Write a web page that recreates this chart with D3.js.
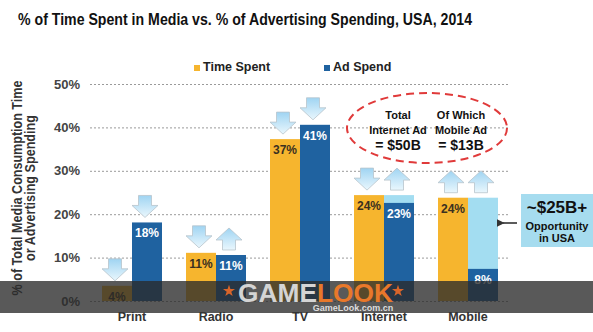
<!DOCTYPE html>
<html><head><meta charset="utf-8">
<script src="https://cdn.jsdelivr.net/npm/d3@7"></script>
<style>
body{margin:0;background:#fff}
text{font-family:"Liberation Sans",Arial,Helvetica,sans-serif;font-weight:bold}
</style>
</head><body><svg id="c" width="593" height="332"></svg>
<script>
const categories = ["Print","Radio","TV","Internet","Mobile"];
const seriesNames = ["Time Spent","Ad Spend"];
const timeSpent = [3.5, 11.1, 37.3, 24.4, 23.8];
const adSpend = [18.1, 10.6, 40.6, 22.6, 7.4];
const opportunityTop = [null, null, null, 24.4, 23.8];
const timeLabels = ["4%","11%","37%","24%","24%"];
const adLabels = ["18%","11%","41%","23%","8%"];
const timeArrows = ["down","down","down","down","up"];
const adArrows = ["down","up","down","up","up"];
const yTicks = [0,10,20,30,40,50];

const COL_TIME = "#f6b52e", COL_AD = "#1f62a0", COL_GAP = "#a3ddf1";
const svg = d3.select("#c");

const defs = svg.append("defs");
const g1 = defs.append("linearGradient").attr("id","arrGrad").attr("x1",0).attr("y1",0).attr("x2",0).attr("y2",1);
g1.append("stop").attr("offset","0%").attr("stop-color","#9fd4f2");
g1.append("stop").attr("offset","100%").attr("stop-color","#eaf7fd");
defs.append("marker").attr("id","ah").attr("viewBox","0 0 10 10").attr("refX",2).attr("refY",5)
  .attr("markerWidth",5).attr("markerHeight",5).attr("orient","auto")
  .append("path").attr("d","M10,0 L0,5 L10,10 z").attr("fill","#333");

// Title
svg.append("text").attr("x",18).attr("y",25).attr("font-size",17)
  .attr("textLength",454).attr("lengthAdjust","spacingAndGlyphs").attr("fill","#111")
  .text("% of Time Spent in Media vs. % of Advertising Spending, USA, 2014");

const y = d3.scaleLinear().domain([0,50]).range([301,84]);
const x = d3.scaleBand().domain(categories).range([90,510]).paddingInner(24/84).paddingOuter(12/84);
const x1 = d3.scaleBand().domain(seriesNames).range([0,x.bandwidth()]);

// Grid / y axis
const yAxis = svg.append("g").attr("transform","translate(90,0)")
  .call(d3.axisLeft(y).tickValues(yTicks).tickFormat(d=>d+"%").tickSize(-418).tickPadding(10));
yAxis.select(".domain").remove();
yAxis.selectAll(".tick line").attr("stroke","#9a9a9a").attr("stroke-dasharray","2,2");
yAxis.selectAll(".tick text").attr("font-size",13).attr("fill","#444")
  .style("font-family","'Liberation Sans',Arial,sans-serif").style("font-weight","bold");

// Legend
const leg = svg.append("g");
[[194,"Time Spent",COL_TIME],[324,"Ad Spend",COL_AD]].forEach(([lx,t,c])=>{
  leg.append("rect").attr("x",lx).attr("y",65).attr("width",6).attr("height",6).attr("fill",c);
  leg.append("text").attr("x",lx+9).attr("y",71).attr("font-size",12.5).attr("fill","#222").text(t);
});

// Bars
const groups = svg.append("g").selectAll("g").data(categories).join("g")
  .attr("transform",d=>`translate(${x(d)},0)`);
groups.append("rect").attr("x",x1("Time Spent")).attr("width",x1.bandwidth())
  .attr("y",(d,i)=>y(timeSpent[i])).attr("height",(d,i)=>y(0)-y(timeSpent[i])).attr("fill",COL_TIME);
groups.filter((d,i)=>opportunityTop[i]!=null).append("rect").attr("x",x1("Ad Spend")).attr("width",x1.bandwidth())
  .attr("y",d=>y(opportunityTop[categories.indexOf(d)])).attr("height",d=>y(0)-y(opportunityTop[categories.indexOf(d)]))
  .attr("fill",COL_GAP);
groups.append("rect").attr("x",x1("Ad Spend")).attr("width",x1.bandwidth())
  .attr("y",(d,i)=>y(adSpend[i])).attr("height",(d,i)=>y(0)-y(adSpend[i])).attr("fill",COL_AD);

// Bar labels
groups.append("text").attr("x",x1("Time Spent")+x1.bandwidth()/2).attr("text-anchor","middle")
  .attr("y",(d,i)=>y(timeSpent[i])+15).attr("font-size",12).attr("fill","#3a3020").text((d,i)=>timeLabels[i]);
groups.append("text").attr("x",x1("Ad Spend")+x1.bandwidth()/2).attr("text-anchor","middle")
  .attr("y",(d,i)=>y(adSpend[i])+15).attr("font-size",12).attr("fill","#fff").text((d,i)=>adLabels[i]);

// Arrows
function arrowPath(cx, bottom, dir){
  const w=26,h=22,sw=13,hh=12, top=bottom-h;
  if(dir==="down"){
    return `M${cx-sw/2},${top} L${cx+sw/2},${top} L${cx+sw/2},${top+h-hh} L${cx+w/2},${top+h-hh} L${cx},${bottom} L${cx-w/2},${top+h-hh} L${cx-sw/2},${top+h-hh} Z`;
  } else {
    return `M${cx},${top} L${cx+w/2},${top+hh} L${cx+sw/2},${top+hh} L${cx+sw/2},${bottom} L${cx-sw/2},${bottom} L${cx-sw/2},${top+hh} L${cx-w/2},${top+hh} Z`;
  }
}
const arrows = svg.append("g");
categories.forEach((c,i)=>{
  const cxT = x(c)+x1("Time Spent")+x1.bandwidth()/2;
  const cxA = x(c)+x1("Ad Spend")+x1.bandwidth()/2;
  const topA = opportunityTop[i]!=null ? Math.max(adSpend[i],opportunityTop[i]) : adSpend[i];
  arrows.append("path").attr("d",arrowPath(cxT-2,y(timeSpent[i])-5,timeArrows[i]))
    .attr("fill","url(#arrGrad)").attr("stroke","#b8c4cc").attr("stroke-width",0.8);
  arrows.append("path").attr("d",arrowPath(cxA-2,y(topA)-5,adArrows[i]))
    .attr("fill","url(#arrGrad)").attr("stroke","#b8c4cc").attr("stroke-width",0.8);
});

// Ellipse annotation
svg.append("ellipse").attr("cx",427).attr("cy",128).attr("rx",80).attr("ry",35)
  .attr("fill","none").attr("stroke","#e03a3a").attr("stroke-width",2).attr("stroke-dasharray","8,5");
const ell = [[398,["Total","Internet Ad"],"= $50B"],[461,["Of Which","Mobile Ad"],"= $13B"]];
ell.forEach(([cx,lines,big])=>{
  lines.forEach((t,j)=>svg.append("text").attr("x",cx).attr("y",119+j*15).attr("text-anchor","middle")
    .attr("font-size",11).attr("fill","#111").text(t));
  svg.append("text").attr("x",cx).attr("y",150).attr("text-anchor","middle").attr("font-size",14).attr("fill","#111").text(big);
});

// Opportunity box
svg.append("rect").attr("x",521).attr("y",194).attr("width",72).attr("height",53).attr("fill","#a6dcef");
svg.append("text").attr("x",557).attr("y",213).attr("text-anchor","middle").attr("font-size",17).attr("fill","#111").text("~$25B+");
svg.append("text").attr("x",557).attr("y",230).attr("text-anchor","middle").attr("font-size",11).attr("fill","#111").text("Opportunity");
svg.append("text").attr("x",557).attr("y",242).attr("text-anchor","middle").attr("font-size",11).attr("fill","#111").text("in USA");
svg.append("line").attr("x1",517).attr("y1",223).attr("x2",503).attr("y2",223)
  .attr("stroke","#333").attr("stroke-width",1.6).attr("marker-end","url(#ah)");

// Y axis title (measured then squeezed to the reference length)
[["% of Total Media Consumption Time",22,215],["or Advertising Spending",34.5,146]].forEach(([t,bx,len])=>{
  const tx = svg.append("text").attr("text-anchor","middle").attr("x",0).attr("y",0)
    .attr("font-size",14.5).attr("fill","#333").text(t);
  const L = tx.node().getComputedTextLength();
  tx.attr("transform",`translate(${bx},188) rotate(-90) scale(${len/L},1)`);
});

// Watermark band
svg.append("rect").attr("x",0).attr("y",281).attr("width",593).attr("height",32).attr("fill","#2a2a2a").attr("opacity",0.78);
const wm = svg.append("text").attr("x",238).attr("y",302).attr("font-size",25).attr("textLength",155).attr("lengthAdjust","spacingAndGlyphs");
wm.append("tspan").attr("fill","#d4d4d4").text("GAME");
wm.append("tspan").attr("fill","#e8782a").text("LOOK");
[229,398].forEach(sx=>svg.append("path").attr("d",d3.symbol(d3.symbolStar).size(45)())
  .attr("transform",`translate(${sx},291)`).attr("fill","#d9652a"));
svg.append("text").attr("x",353).attr("y",311).attr("text-anchor","middle").attr("font-size",9).attr("fill","#ddd").text("GameLook.com.cn");

// X axis labels
const xAxis = svg.append("g").attr("transform","translate(0,301)")
  .call(d3.axisBottom(x).tickSize(0).tickPadding(11));
xAxis.select(".domain").remove();
xAxis.selectAll(".tick text").attr("font-size",12.5).attr("fill","#333")
  .style("font-family","'Liberation Sans',Arial,sans-serif").style("font-weight","bold");
</script></body></html>
